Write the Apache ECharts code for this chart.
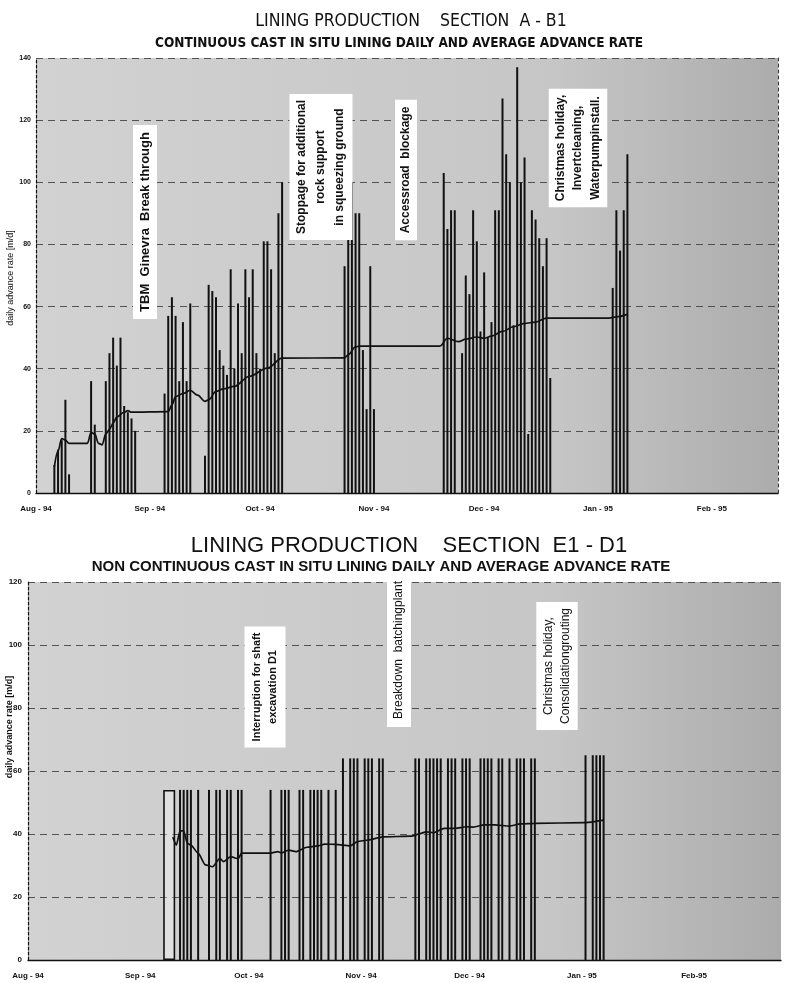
<!DOCTYPE html>
<html><head><meta charset="utf-8">
<script src="https://cdn.jsdelivr.net/npm/echarts@6/dist/echarts.min.js"></script>
<style>html,body{margin:0;padding:0;background:#fff}#c{width:786px;height:983px}</style>
</head><body><div id="c"></div>
<script>
// ---------- data ----------
const monthLabelsA = ['Aug - 94','Sep - 94','Oct - 94','Nov - 94','Dec - 94','Jan - 95','Feb - 95'];
const monthLabelsB = ['Aug - 94','Sep - 94','Oct - 94','Nov - 94','Dec - 94','Jan - 95','Feb-95'];
const monthLengths = [31,30,31,30,31,31,28];
const dayCountA = 203;   // days shown on top chart, from 1 Aug 1994
const dayCountB = 209;   // days shown on bottom chart

// Section A-B1 : daily advance rate [day index from 1 Aug 94, m/d]
const dailyA = [
  [5,9],[6,14],[7,17],[8,30],[9,6],
  [15,36],[16,22],[19,36],[20,45],[21,50],[22,41],[23,50],[24,28],[25,26],[26,24],[27,20],
  [35,32],[36,57],[37,63],[38,57],[39,36],[40,55],[41,36],[42,61],
  [46,12],[47,67],[48,65],[49,63],[50,46],[51,41],[52,38],[53,72],[54,40],[55,61],[56,45],
  [57,72],[58,63],[59,72],[60,45],[61,40],[62,81],[63,81],[64,72],[65,45],[66,90],[67,100],
  [84,73],[85,82],[86,100],[87,90],[88,90],[89,46],[90,27],[91,73],[92,27],
  [111,103],[112,85],[113,91],[114,91],[116,45],[117,70],[118,64],[119,91],[120,81],[121,52],
  [122,71],[123,50],[124,55],[125,91],[126,91],[127,127],[128,109],[129,100],[130,54],[131,137],
  [132,100],[133,108],[134,19],[135,91],[136,88],[137,82],[138,73],[139,82],[140,37],
  [157,66],[158,91],[159,78],[160,91],[161,109]
];
// Section A-B1 : average advance rate
const averageA = [
  [5,8.5],[6,13.5],[7,17.5],[8,17],[9,16],[14,16],[15,19.5],[16,19],[17,16],[18,15.5],[19,19],
  [20,20.5],[21,22.5],[22,24.5],[24,26],[25,26.5],[26,26],[36,26.2],[37,28.4],[38,31],[40,32],
  [42,33],[44,31.5],[46,29.5],[47,30],[49,32.7],[51,33.5],[54,34.3],[58,37.5],[63,40.2],[67,43.4],
  [84,43.5],[85,44.5],[87,47],[88,47.3],[110,47.3],[112,49.8],[115,48.7],[117,49.5],[120,50.2],
  [122,49.8],[124,50.5],[127,52],[130,53.5],[133,54.6],[136,55],[139,56.3],[156,56.3],[158,56.7],[161,57.5]
];

// Section E1-D1 : daily advance rate
const blockB = [[39,54]];
const dailyB = [
  [42,54],[43,54],[44,54],[45,54],[47,54],[50,54],[52,54],[53,54],[55,54],[56,54],[58,54],[59,54],
  [67,54],[70,54],[71,54],[72,54],[75,54],[76,54],[78,54],[79,54],[80,54],[81,54],[83,54],[85,54],
  [87,64],[89,64],[90,64],[91,64],[93,64],[94,64],[95,64],[97,64],[98,64],
  [107,64],[108,64],[110,64],[111,64],[112,64],[113,64],[114,64],[116,64],[117,64],[118,64],
  [120,64],[121,64],[122,64],[125,64],[126,64],[127,64],[128,64],[130,64],[131,64],[133,64],
  [135,64],[136,64],[137,64],[139,64],[140,64],
  [154,65],[156,65],[157,65],[158,65],[159,65]
];
// Section E1-D1 : average advance rate
const averageB = [
  [40,39],[41,36.5],[42,41],[43,41],[44,37],[45,36.5],[47,33.9],[49,30.2],[51,29.6],[53,32.3],
  [54,31.2],[56,32.8],[58,32.1],[59,33.9],[67,33.9],[69,34.4],[70,34],[72,34.9],[74,34.4],
  [77,35.8],[80,36.2],[82,36.8],[85,36.7],[89,36.2],[91,37.6],[94,38.1],[98,39.1],[106,39.3],
  [108,40],[110,40.7],[112,40.4],[115,41.8],[118,41.8],[121,42.3],[123,42.2],[126,42.9],
  [129,42.9],[133,42.5],[136,43.2],[140,43.4],[154,43.6],[159,44.4]
];

// ---------- helpers ----------
function dayCats(n){ const a=[]; for(let i=0;i<n;i++) a.push(String(i)); return a; }
const monthStart = []; { let s=0; for(const l of monthLengths){ monthStart.push(s); s+=l; } }
function labelMap(labels){ const m={}; monthStart.forEach((s,i)=>{ m[s]=labels[i]; }); return m; }
const mapA = labelMap(monthLabelsA), mapB = labelMap(monthLabelsB);

const FONT = '"Liberation Sans", Arial, sans-serif';
const NARROW = '"Liberation Sans Narrow", "DejaVu Sans Condensed", "Liberation Sans", sans-serif';
const gridBg = {type:'linear',x:0,y:0,x2:1,y2:0,colorStops:[
  {offset:0,color:'#d2d2d2'},{offset:0.7,color:'#c6c6c6'},{offset:1,color:'#acacac'}]};

function xAxisFor(n, map, show){
  return {
    type:'category', data: dayCats(n), boundaryGap:false, show: show,
    axisLine:{show:true, lineStyle:{color:'#111', width:1.3}},
    axisTick:{show:false},
    splitLine:{show:false},
    axisLabel:{
      interval:(i)=> map[i]!==undefined,
      formatter:(v,i)=> map[i]||'',
      color:'#111', fontFamily:FONT, fontWeight:'bold', fontSize:8, margin:12
    }
  };
}
function note(x,y,text,font,lh,pad){
  return {type:'text', x:x, y:y, rotation:Math.PI/2, z:100,
    style:{text:text, font:font, fill:'#111', align:'center', verticalAlign:'middle',
      lineHeight:lh, backgroundColor:'#fff', padding:pad}};
}

const chart = echarts.init(document.getElementById('c'), null, {renderer:'canvas'});
chart.setOption({
  backgroundColor:'#fff',
  animation:false,
  title:[
    {text:'LINING PRODUCTION    SECTION  A - B1', left:406, top:7, textAlign:'center',
      textStyle:{fontFamily:NARROW, fontWeight:'normal', fontSize:17.5, color:'#111'}},
    {text:'CONTINUOUS CAST IN SITU LINING DAILY AND AVERAGE ADVANCE RATE', left:394, top:31, textAlign:'center',
      textStyle:{fontFamily:NARROW, fontWeight:'bold', fontSize:13.5, color:'#111'}},
    {text:'LINING PRODUCTION    SECTION  E1 - D1', left:404, top:530, textAlign:'center',
      textStyle:{fontFamily:FONT, fontWeight:'normal', fontSize:22, color:'#111'}},
    {text:'NON CONTINUOUS CAST IN SITU LINING DAILY AND AVERAGE ADVANCE RATE', left:376, top:554, textAlign:'center',
      textStyle:{fontFamily:FONT, fontWeight:'bold', fontSize:15, color:'#111'}}
  ],
  grid:[
    {left:36, right:8, top:58, bottom:490, show:true, backgroundColor:gridBg, borderWidth:0},
    {left:28, right:5, top:582, bottom:23, show:true, backgroundColor:gridBg, borderWidth:0}
  ],
  xAxis:[
    Object.assign(xAxisFor(dayCountA, mapA, true), {gridIndex:0}),
    Object.assign(xAxisFor(dayCountB, mapB, true), {gridIndex:1}),
    Object.assign(xAxisFor(dayCountB, mapB, false), {gridIndex:1})
  ],
  yAxis:[
    {type:'value', gridIndex:0, min:0, max:140, interval:20,
      axisLine:{show:true, lineStyle:{color:'#111', type:[3,2], width:1.2}},
      axisTick:{show:false},
      axisLabel:{color:'#111', fontFamily:FONT, fontSize:7, fontWeight:'bold', margin:5},
      splitLine:{show:true, lineStyle:{color:'#444', type:[7,5], width:0.9}}},
    {type:'value', gridIndex:0, min:0, max:140, interval:20, position:'right',
      axisLine:{show:true, lineStyle:{color:'#333', type:[3,3], width:1}},
      axisTick:{show:false}, axisLabel:{show:false}, splitLine:{show:false}},
    {type:'value', gridIndex:1, min:0, max:120, interval:20,
      axisLine:{show:true, lineStyle:{color:'#111', type:[3,2], width:1.2}},
      axisTick:{show:false},
      axisLabel:{color:'#111', fontFamily:FONT, fontSize:8, fontWeight:'bold', margin:6},
      splitLine:{show:true, lineStyle:{color:'#444', type:[7,5], width:0.9}}}
  ],
  series:[
    {type:'bar', xAxisIndex:0, yAxisIndex:0, data:dailyA, barWidth:2,
      itemStyle:{color:'#111'}, silent:true},
    {type:'line', xAxisIndex:0, yAxisIndex:0, data:averageA, showSymbol:false, smooth:0.35,
      smoothMonotone:'x', lineStyle:{color:'#111', width:1.7}, z:5, silent:true},
    {type:'bar', xAxisIndex:1, yAxisIndex:2, data:dailyB, barWidth:2,
      itemStyle:{color:'#111'}, silent:true},
    {type:'bar', xAxisIndex:2, yAxisIndex:2, data:blockB, barWidth:12,
      itemStyle:{color:'rgba(255,255,255,0.35)', borderColor:'#111', borderWidth:1.6}, silent:true},
    {type:'line', xAxisIndex:1, yAxisIndex:2, data:averageB, showSymbol:false, smooth:0.2,
      smoothMonotone:'x', lineStyle:{color:'#111', width:1.7}, z:5, silent:true}
  ],
  graphic:[
    {type:'text', x:11, y:278, rotation:Math.PI/2,
      style:{text:'daily advance rate [m/d]', font:'9px '+FONT, fill:'#111', align:'center', verticalAlign:'middle'}},
    {type:'text', x:10, y:727, rotation:Math.PI/2,
      style:{text:'daily advance rate [m/d]', font:'bold 9px '+FONT, fill:'#111', align:'center', verticalAlign:'middle'}},
    note(145, 222, 'TBM  Ginevra  Break through', 'bold 13px '+FONT, 16, [4,7,4,7]),
    note(321, 167, 'Stoppage for additional\nrock support\nin squeezing ground', 'bold 12px '+FONT, 19, [3,6,3,6]),
    note(406, 170, 'Accessroad  blockage', 'bold 12px '+FONT, 16, [3,7,3,7]),
    note(578, 148, 'Christmas holiday,\nInvertcleaning,\nWaterpumpinstall.', 'bold 12px '+FONT, 17.5, [3,6,3,6]),
    note(265, 687, 'Interruption for shaft\nexcavation D1', 'bold 11px '+FONT, 16.5, [4,6,4,6]),
    note(399, 650, 'Breakdown  batchingplant', '12px '+FONT, 16, [4,8,4,8]),
    note(557, 666, 'Christmas holiday,\nConsolidationgrouting', '12px '+FONT, 16.7, [4,6,4,6])
  ]
});
</script></body></html>
